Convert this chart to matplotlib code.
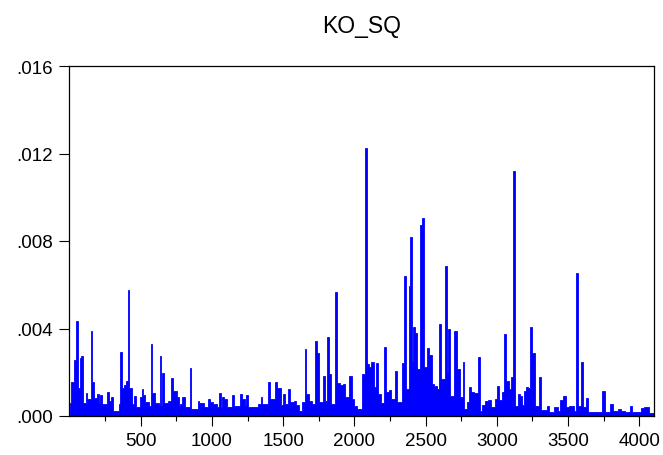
import matplotlib
matplotlib.use("Agg")
import matplotlib.pyplot as plt
from matplotlib.ticker import FixedLocator, FuncFormatter

plt.rcParams['font.family'] = ['Liberation Sans', 'DejaVu Sans']

# KO_SQ: each value (in units of 1e-4) holds from its
# start observation up to the next one (envelope of the dense series)
obs_start = [
    1, 14, 30, 48, 61, 73, 84, 96, 115, 126, 150, 160, 170, 194, 206, 218,
    231, 264, 276, 292, 305, 346, 358, 368, 383, 398, 408, 420, 437, 456,
    467, 498, 507, 519, 533, 557, 571, 583, 598, 627, 634, 646, 651, 663,
    693, 712, 729, 753, 766, 775, 790, 810, 845, 855, 900, 911, 945, 970,
    986, 1005, 1033, 1051, 1063, 1074, 1088, 1103, 1144, 1156, 1195, 1208,
    1232, 1241, 1254, 1325, 1343, 1355, 1395, 1407, 1430, 1444, 1460, 1485,
    1498, 1516, 1533, 1549, 1573, 1592, 1610, 1634, 1650, 1663, 1685, 1704,
    1722, 1737, 1749, 1779, 1797, 1809, 1822, 1838, 1865, 1878, 1902, 1918,
    1932, 1965, 1981, 2000, 2021, 2055, 2074, 2087, 2104, 2119, 2136, 2152,
    2168, 2187, 2206, 2222, 2241, 2257, 2285, 2301, 2332, 2348, 2361, 2383,
    2392, 2403, 2413, 2427, 2441, 2458, 2474, 2490, 2508, 2522, 2542, 2561,
    2578, 2594, 2610, 2638, 2652, 2656, 2671, 2699, 2717, 2743, 2759, 2772,
    2791, 2806, 2821, 2840, 2865, 2880, 2897, 2920, 2940, 2962, 2987, 3001,
    3013, 3038, 3053, 3067, 3085, 3101, 3114, 3130, 3147, 3163, 3177, 3189,
    3202, 3216, 3235, 3250, 3266, 3298, 3313, 3349, 3366, 3403, 3426, 3443,
    3464, 3482, 3506, 3540, 3557, 3572, 3589, 3606, 3625, 3641, 3741, 3757,
    3794, 3815, 3848, 3870, 3898, 3934, 3950, 4012, 4035, 4070,
]
last_obs = 4100
ko_sq = [
    6, 15.7, 25.6, 43.6, 13, 26.5, 27.6, 6, 10.4, 8, 39, 15.4, 8.2, 10, 6, 9.6,
    5.5, 10.8, 7, 8.5, 2.4, 5.5, 29.4, 13, 14.2, 16.2, 57.6, 13, 5.5, 9.3,
    4, 8.5, 12.3, 9.6, 6.2, 4.5, 33, 10.5, 6, 5, 27.6, 5, 19.7, 6,
    7, 17.4, 11.3, 8.5, 4.5, 5.5, 8.5, 4, 22, 3.2, 7, 6, 4, 7.8,
    6.5, 5.5, 4, 10.5, 4, 8.5, 7.8, 4, 9.8, 4.7, 10, 7.8,
    5, 9.8, 4, 5.5, 8.5, 5.5, 15.4, 7.8, 8, 15.7, 12.6, 5,
    10.2, 5.5, 12.3, 6.5, 6.7, 5, 2.4, 6.2, 30.6, 10, 7, 5.5,
    34.4, 28.8, 6.2, 18.4, 7, 36, 19.2, 5.5, 56.5, 15, 14.2, 14.6,
    8.5, 18.4, 7.8, 4.7, 3.2, 19.2, 122.3, 23.8, 22.2, 24.5, 13.1, 24.2,
    10, 6, 31.7, 10.8, 12, 7.8, 20.7, 6.2, 24.2, 64, 12.3, 59.6,
    82, 25, 40.5, 38, 21.5, 87.3, 90.3, 22.2, 31, 28, 14.6, 13.9,
    12.3, 42, 17, 68.4, 20, 40, 9.3, 39, 21.5, 8.5, 24.5, 3.2,
    6.5, 13.1, 10.8, 10.5, 26.8, 2.4, 5, 6.9, 7.5, 4, 7.8, 13.9,
    7.5, 10.8, 37.5, 16, 12.3, 18, 112, 4.7, 10, 9.3, 5, 11.6,
    13.1, 12.6, 40.5, 28.8, 4.7, 17.7, 2.7, 4.7, 1.7, 4, 2.4, 7.5,
    9, 4, 4.7, 2.4, 65.3, 4.7, 24.5, 4, 8.2, 2, 11.6, 1.7,
    5.5, 2.4, 3.2, 2.4, 1.7, 4.4, 1.7, 3.5, 4, 1.4,
]

y_ticks = [0.0, 0.004, 0.008, 0.012, 0.016]
x_major = [500, 1000, 1500, 2000, 2500, 3000, 3500, 4000]
x_minor = [250, 750, 1250, 1750, 2250, 2750, 3250, 3750]

values = [v * 1e-4 for v in ko_sq]
edges = obs_start + [last_obs]

fig = plt.figure(figsize=(6.63, 4.56), dpi=100)
ax = fig.add_axes([69 / 663, 39 / 456, 585 / 663, 350 / 456])

ax.stairs(values, edges, fill=True, color='#0000FF', linewidth=0.6,
          edgecolor='#0000FF')

ax.set_xlim(-3, 4103)
ax.set_ylim(0, 0.016)

ax.yaxis.set_major_locator(FixedLocator(y_ticks))
ax.yaxis.set_major_formatter(FuncFormatter(lambda v, p: f"{v:.3f}".lstrip('0')))
ax.xaxis.set_major_locator(FixedLocator(x_major))
ax.xaxis.set_minor_locator(FixedLocator(x_minor))

ax.tick_params(axis='both', which='major', direction='out', length=7.2,
               width=0.8, labelsize=13.5, pad=4.3)
ax.tick_params(axis='x', which='minor', direction='out', length=3.6, width=0.8)

for s in ax.spines.values():
    s.set_linewidth(0.9)
    s.set_color('black')

fig.text(361.5 / 663, 1 - 33 / 456, 'KO_SQ', ha='center', va='baseline',
         fontsize=16.5)

fig.savefig('out.png', dpi=100)
